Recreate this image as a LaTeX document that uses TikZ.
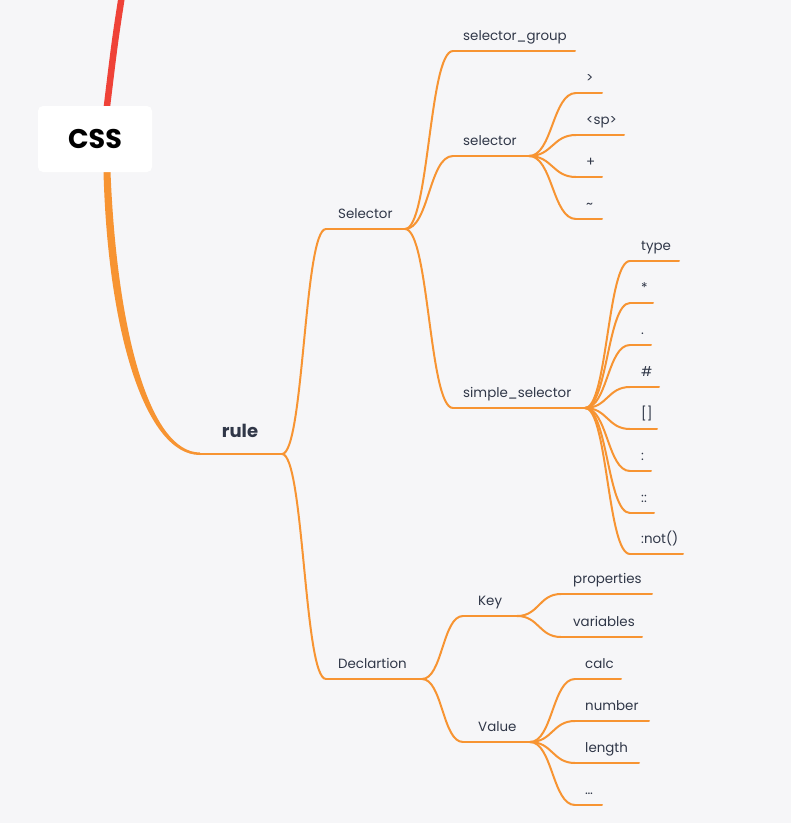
\documentclass[tikz,border=0pt]{standalone}
\usepackage{fontspec}
\setmainfont{Poppins}
\usetikzlibrary{calc}
\definecolor{bg}{RGB}{246,246,248}
\definecolor{org}{RGB}{247,148,50}
\definecolor{rd}{RGB}{239,66,56}
\definecolor{txt}{RGB}{48,55,72}
\tikzset{
  lbl/.style={anchor=base west, inner sep=0pt, text=txt, font=\fontsize{13.4}{15}\selectfont},
  uline/.style={draw=org, line width=2pt, line cap=round},
}
\newcommand\brc[2]{\draw[uline] let \p1=(#1-e), \p2=(#2-s) in (\p1) .. controls ({0.5*\x1+0.5*\x2},\y1) and ({0.5*\x1+0.5*\x2},\y2) .. (\p2);}
\newcommand\nd[6]{%
  \coordinate (#1-s) at (#2,#4); \coordinate (#1-e) at (#3,#4);
  \node[lbl] (#1) at (#5,#4-11) {#6};
  \draw[uline] (#1-s) -- (#1-e);}
\begin{document}
\begin{tikzpicture}[x=1pt,y=-1pt]
\useasboundingbox (0,0) rectangle (791,823);
\fill[bg] (0,0) rectangle (791,823);
% red incoming line
\draw[rd, line width=6.5pt] (122,-5) .. controls (115,40) .. (106.5,110);
% root to rule
\coordinate (root) at (107,172);
\fill[org] (103.5,172) .. controls (108,335) and (146,455) .. (200,455) -- (200,452.5) .. controls (150,452.5) and (117,333) .. (110.5,172) -- cycle;
\node[fill=white, rounded corners=5pt, minimum width=114pt, minimum height=66pt, inner sep=0pt, font=\bfseries\fontsize{27}{30}\selectfont] (css) at (95,139) {CSS};
% rule
\coordinate (rule-s) at (200,454); \coordinate (rule-e) at (282,454);
\node[text=txt, inner sep=0pt, font=\bfseries\fontsize{18}{21}\selectfont] (rule) at (240,431) {rule};
\draw[uline] (rule-s) -- (rule-e);
% level 2
\nd{sel}{326}{405}{229}{338}{Selector}
\nd{dec}{326}{422}{679}{338}{Declartion}
\brc{rule}{sel}\brc{rule}{dec}
% selector branch
\nd{sgrp}{453}{575}{51}{463}{selector\_group}
\nd{selr}{453}{529}{156}{463}{selector}
\nd{simp}{453}{585}{408}{463}{simple\_selector}
\brc{sel}{sgrp}\brc{sel}{selr}\brc{sel}{simp}
% combinators
\nd{c1}{576}{602}{93}{586}{>}
\nd{c2}{576}{624}{135}{586}{<sp>}
\nd{c3}{576}{602}{177}{586}{+}
\nd{c4}{576}{602}{219}{586}{\textasciitilde}
\brc{selr}{c1}\brc{selr}{c2}\brc{selr}{c3}\brc{selr}{c4}
% simple selectors
\nd{s1}{630}{679}{261}{641}{type}
\nd{s2}{630}{653}{303}{641}{*}
\nd{s3}{630}{651}{345}{641}{.}
\nd{s4}{630}{659}{387}{641}{\#}
\nd{s5}{630}{657}{429}{641}{[]}
\nd{s6}{630}{651}{471}{641}{:}
\nd{s7}{630}{654}{513}{641}{::}
\nd{s8}{630}{683}{554}{641}{:not()}
\brc{simp}{s1}\brc{simp}{s2}\brc{simp}{s3}\brc{simp}{s4}
\brc{simp}{s5}\brc{simp}{s6}\brc{simp}{s7}\brc{simp}{s8}
% declaration
\nd{key}{463}{517}{616}{478}{Key}
\nd{val}{463}{530}{742}{478}{Value}
\brc{dec}{key}\brc{dec}{val}
\nd{k1}{561}{652}{594}{573}{properties}
\nd{k2}{561}{642}{637}{573}{variables}
\brc{key}{k1}\brc{key}{k2}
\nd{v1}{575}{621}{679}{585}{calc}
\nd{v2}{575}{649}{721}{585}{number}
\nd{v3}{575}{639}{763}{585}{length}
\nd{v4}{575}{602}{805}{585}{…}
\brc{val}{v1}\brc{val}{v2}\brc{val}{v3}\brc{val}{v4}
\end{tikzpicture}
\end{document}
